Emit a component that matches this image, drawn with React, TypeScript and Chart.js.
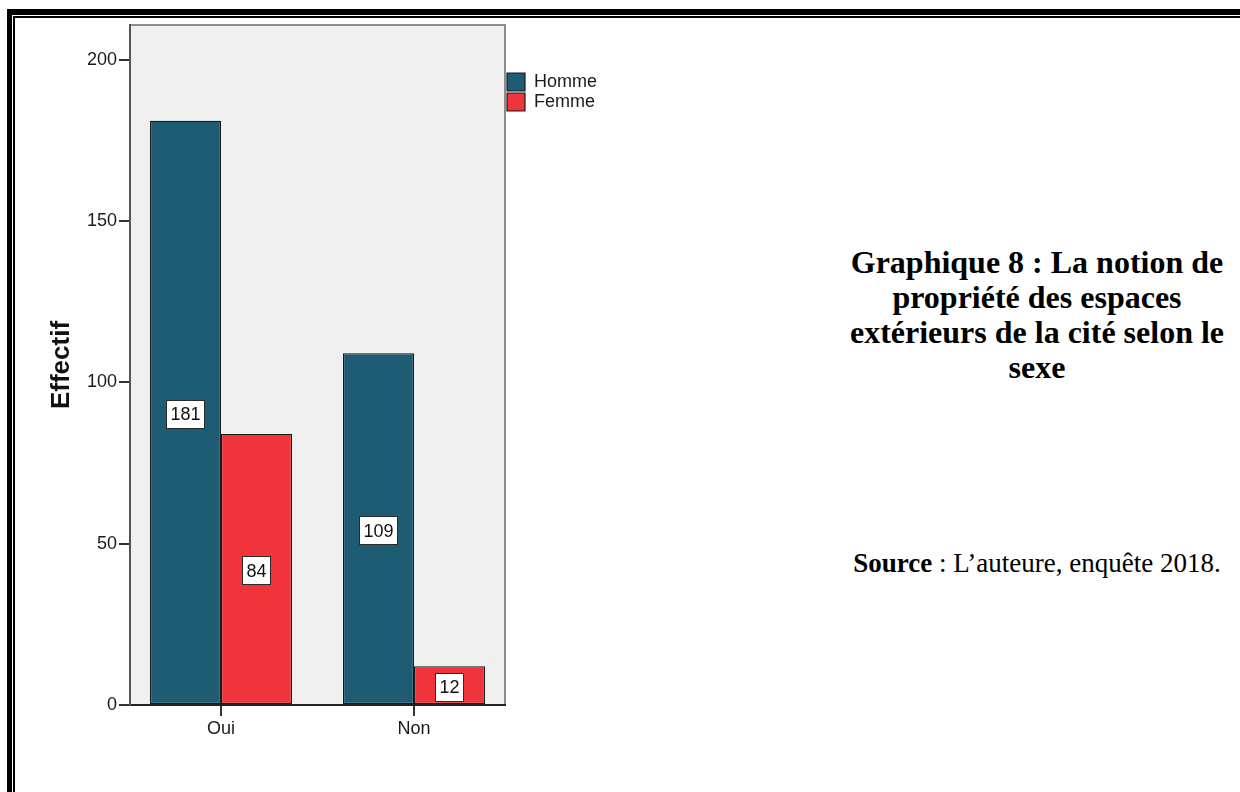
import React, { useEffect, useRef } from "react";
import { Chart, registerables } from "chart.js";

Chart.register(...registerables);

// Survey counts: perceived ownership of the estate's outdoor spaces, by sex
const categories = ["Oui", "Non"];
const seriesNames = ["Homme", "Femme"];
const hommeValues = [181, 109];
const femmeValues = [84, 12];
const yTickValues = [0, 50, 100, 150, 200];
const yAxisTitle = "Effectif";

const captionLines = [
  "Graphique 8 : La notion de",
  "propriété des espaces",
  "extérieurs de la cité selon le",
  "sexe",
];
const sourceLabel = "Source";
const sourceText = " : L’auteure, enquête 2018.";

const SANS = "'Liberation Sans', Arial, sans-serif";
const SERIF = "'Liberation Serif', 'Times New Roman', Times, serif";
const FONT_SIZE = 18;

const HOMME_COLOR = "#1d5c72";
const FEMME_COLOR = "#f0343b";
const INK = "#1a1a1a";

const CANVAS_W = 640;
const CANVAS_H = 792;
const PLOT_RIGHT = 505;
const LEGEND_BOX = 18;
const LEGEND_PAD = 2;

// Light grey plot panel with a thin frame on its top and right edges
const plotPanel = {
  id: "plotPanel",
  beforeDraw(chart: any) {
    const { ctx, chartArea: a } = chart;
    ctx.save();
    ctx.fillStyle = "#efefef";
    ctx.fillRect(a.left, a.top, a.right - a.left, a.bottom - a.top);
    ctx.strokeStyle = "#6b6b6b";
    ctx.lineWidth = 1.5;
    ctx.beginPath();
    ctx.moveTo(a.left, a.top);
    ctx.lineTo(a.right, a.top);
    ctx.lineTo(a.right, a.bottom);
    ctx.stroke();
    ctx.restore();
  },
};

// Boxed value labels centred inside each bar
const valueBoxes = {
  id: "valueBoxes",
  afterDatasetsDraw(chart: any) {
    const { ctx } = chart;
    ctx.save();
    ctx.font = `${FONT_SIZE}px ${SANS}`;
    ctx.textAlign = "center";
    ctx.textBaseline = "middle";
    chart.data.datasets.forEach((ds: any, di: number) => {
      const meta = chart.getDatasetMeta(di);
      meta.data.forEach((bar: any, i: number) => {
        const text = String(ds.data[i].y);
        const { x, y, base } = bar.getProps(["x", "y", "base"], true);
        const cy = (y + base) / 2 + 2;
        const w = Math.round(ctx.measureText(text).width + 9);
        const h = 29;
        const left = Math.round(x - w / 2);
        const top = Math.round(cy - h / 2);
        ctx.fillStyle = "#ffffff";
        ctx.fillRect(left, top, w, h);
        ctx.strokeStyle = "#2a2a2a";
        ctx.lineWidth = 1;
        ctx.strokeRect(left + 0.5, top + 0.5, w - 1, h - 1);
        ctx.fillStyle = "#111111";
        ctx.fillText(text, x, cy + 1);
      });
    });
    ctx.restore();
  },
};

function BarChart() {
  const canvasRef = useRef<HTMLCanvasElement | null>(null);

  useEffect(() => {
    const canvas = canvasRef.current;
    if (!canvas) return;

    // Right-hand padding so that the legend sits just beside the plot panel
    const measure = document.createElement("canvas").getContext("2d") as CanvasRenderingContext2D;
    measure.font = `${FONT_SIZE}px ${SANS}`;
    const textW = Math.max(...seriesNames.map((n) => measure.measureText(n).width));
    const legendW = LEGEND_PAD + LEGEND_BOX + FONT_SIZE / 2 + textW + 10;
    const padRight = CANVAS_W - PLOT_RIGHT - legendW;

    const chart = new Chart(canvas, {
      type: "bar",
      data: {
        datasets: [
          {
            label: seriesNames[0],
            data: hommeValues.map((v, i) => ({ x: i, y: v })),
            backgroundColor: HOMME_COLOR,
            borderColor: INK,
            borderWidth: 1.2,
            borderSkipped: false,
          },
          {
            label: seriesNames[1],
            data: femmeValues.map((v, i) => ({ x: i, y: v })),
            backgroundColor: FEMME_COLOR,
            borderColor: INK,
            borderWidth: 1.2,
            borderSkipped: false,
          },
        ],
      },
      options: {
        responsive: false,
        animation: false,
        events: [],
        layout: { padding: { top: 25, left: 0, bottom: 0, right: padRight } },
        datasets: {
          bar: { barPercentage: 1, categoryPercentage: 0.7358 },
        },
        scales: {
          x: {
            type: "linear",
            offset: false,
            min: -0.4715,
            max: 1.4715,
            afterBuildTicks: (s: any) => {
              s.ticks = categories.map((_, i) => ({ value: i }));
            },
            afterFit: (s: any) => {
              s.height = 87;
            },
            grid: {
              offset: false,
              drawOnChartArea: false,
              drawTicks: true,
              tickLength: 11,
              color: "#333333",
              lineWidth: 2,
            },
            border: { display: true, color: "#222222", width: 2 },
            ticks: {
              autoSkip: false,
              maxRotation: 0,
              padding: 2,
              color: INK,
              font: { family: SANS, size: FONT_SIZE },
              callback: (v: any) => categories[Number(v)] ?? "",
            },
          },
          y: {
            type: "linear",
            min: 0,
            max: 210.7,
            afterBuildTicks: (s: any) => {
              s.ticks = yTickValues.map((v) => ({ value: v }));
            },
            afterFit: (s: any) => {
              s.width = 130;
            },
            grid: {
              drawOnChartArea: false,
              drawTicks: true,
              tickLength: 11,
              color: "#333333",
              lineWidth: 2,
            },
            border: { display: true, color: "#555555", width: 2 },
            ticks: {
              padding: 2,
              color: INK,
              font: { family: SANS, size: FONT_SIZE },
            },
            title: {
              display: true,
              text: yAxisTitle,
              color: "#111111",
              font: { family: SANS, size: 26, weight: "bold" },
              padding: { top: 46, bottom: 0 },
            },
          },
        },
        plugins: {
          legend: {
            position: "right",
            align: "start",
            fullSize: false,
            title: {
              display: true,
              text: "",
              padding: { top: 36, bottom: 0 },
              font: { size: 10, lineHeight: 1 },
            },
            labels: {
              boxWidth: LEGEND_BOX,
              boxHeight: LEGEND_BOX,
              padding: LEGEND_PAD,
              color: INK,
              font: { family: SANS, size: FONT_SIZE },
            },
          },
          tooltip: { enabled: false },
        },
      },
      plugins: [plotPanel, valueBoxes],
    } as any);
    return () => chart.destroy();
  }, []);

  return (
    <canvas
      ref={canvasRef}
      width={CANVAS_W}
      height={CANVAS_H}
      style={{ position: "absolute", left: 0, top: 0, width: CANVAS_W, height: CANVAS_H }}
    />
  );
}

export default function App() {
  return (
    <div style={{ position: "fixed", inset: 0, overflow: "hidden", background: "#ffffff" }}>
      {/* thick-thin page frame */}
      <div
        style={{
          position: "absolute",
          left: 7,
          top: 9,
          width: 1400,
          height: 1000,
          borderTop: "6px solid #000",
          borderLeft: "5px solid #000",
        }}
      />
      <div
        style={{
          position: "absolute",
          left: 13,
          top: 16,
          width: 1400,
          height: 1000,
          borderTop: "2px solid #000",
          borderLeft: "2px solid #000",
        }}
      />
      <BarChart />
      <div
        style={{
          position: "absolute",
          left: 830,
          top: 245,
          width: 414,
          textAlign: "center",
          fontFamily: SERIF,
          fontWeight: "bold",
          fontSize: 32,
          lineHeight: "35px",
          color: "#000",
          whiteSpace: "nowrap",
        }}
      >
        {captionLines.map((line, i) => (
          <div key={i}>{line}</div>
        ))}
      </div>
      <div
        style={{
          position: "absolute",
          left: 830,
          top: 548,
          width: 414,
          textAlign: "center",
          fontFamily: SERIF,
          fontSize: 27,
          lineHeight: "31px",
          color: "#000",
          whiteSpace: "nowrap",
        }}
      >
        <b>{sourceLabel}</b>
        {sourceText}
      </div>
    </div>
  );
}
